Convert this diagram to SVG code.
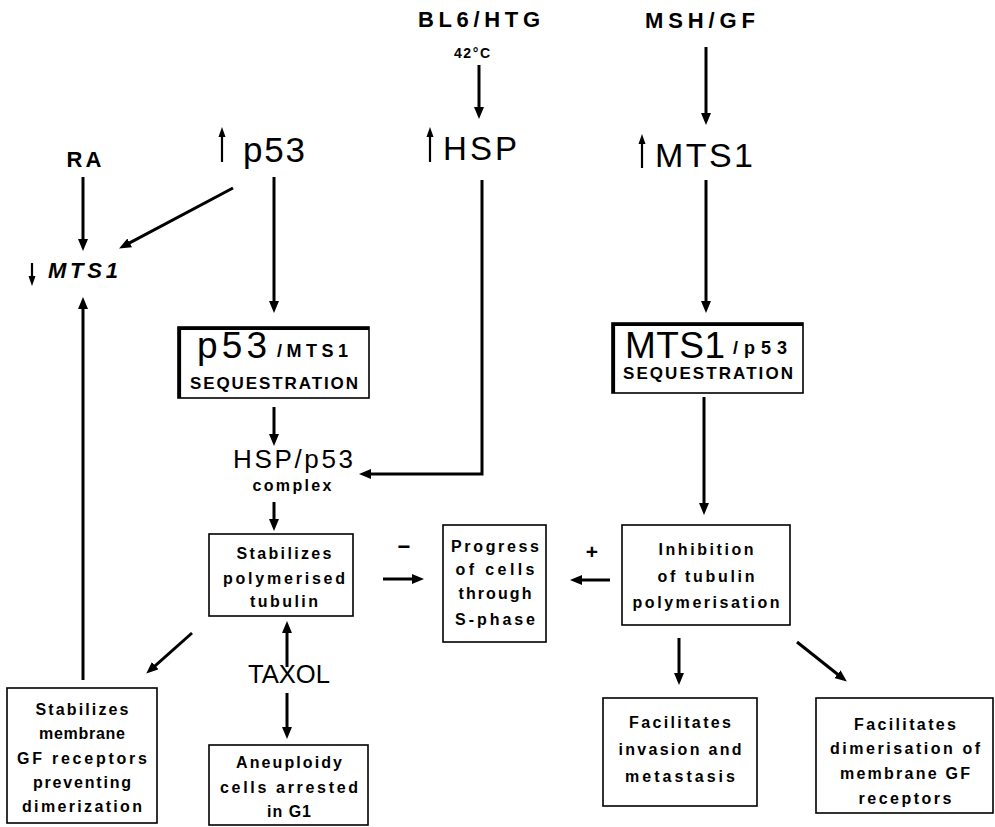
<svg xmlns="http://www.w3.org/2000/svg" width="995" height="827" viewBox="0 0 995 827">
<style>
text{font-family:"Liberation Sans",Arial,Helvetica,sans-serif;fill:#000}
.lab{font-weight:bold;font-size:16px;text-anchor:middle}
.hd{font-weight:bold;font-size:22px;text-anchor:middle}
.big{font-size:35px}
.seq{font-weight:bold;font-size:17px}
.box{fill:none;stroke:#000;stroke-width:1.6}
.thick{fill:none;stroke:#000;stroke-width:3.2}
.c{fill:none;stroke:#000;stroke-width:3}
.bar{stroke:#000;stroke-width:2.2}
</style>
<defs>
<marker id="ah" markerUnits="userSpaceOnUse" markerWidth="13" markerHeight="11" refX="7" refY="5" orient="auto">
<path d="M0,0 L12,5 L0,10 z" fill="#000"/>
</marker>
</defs>
<rect width="995" height="827" fill="#fff"/>

<g id="connectors">
<line class="c" x1="83" y1="177" x2="83" y2="246" marker-end="url(#ah)"/>
<line class="c" x1="233" y1="188" x2="123.5" y2="246.1" marker-end="url(#ah)"/>
<line class="c" x1="274" y1="177" x2="274" y2="308" marker-end="url(#ah)"/>
<line class="c" x1="479" y1="65" x2="479" y2="114" marker-end="url(#ah)"/>
<line class="c" x1="706" y1="47" x2="706" y2="120" marker-end="url(#ah)"/>
<line class="c" x1="706" y1="180" x2="706" y2="308" marker-end="url(#ah)"/>
<path class="c" d="M482,180 V474 H364" marker-end="url(#ah)"/>
<line class="c" x1="274" y1="407" x2="274" y2="441" marker-end="url(#ah)"/>
<line class="c" x1="274" y1="502" x2="274" y2="526" marker-end="url(#ah)"/>
<line class="c" x1="383" y1="579" x2="419" y2="579" marker-end="url(#ah)"/>
<line class="c" x1="610" y1="580" x2="575" y2="580" marker-end="url(#ah)"/>
<line class="c" x1="704" y1="397" x2="704" y2="510" marker-end="url(#ah)"/>
<line class="c" x1="679" y1="638" x2="679" y2="680" marker-end="url(#ah)"/>
<line class="c" x1="797" y1="642" x2="842.9" y2="678.5" marker-end="url(#ah)"/>
<line class="c" x1="192" y1="633" x2="150" y2="670.3" marker-end="url(#ah)"/>
<line class="c" x1="83" y1="680" x2="83" y2="302" marker-end="url(#ah)"/>
<line class="c" x1="287" y1="667" x2="287" y2="626" marker-end="url(#ah)"/>
<line class="c" x1="287" y1="693" x2="287" y2="734" marker-end="url(#ah)"/>
</g>

<g id="n-bl6">
<text class="hd" x="479" y="27" textLength="122">BL6/HTG</text>
<text class="lab" x="472" y="58" style="font-size:14px" textLength="36">42°C</text>
</g>
<g id="n-msh">
<text class="hd" x="700" y="28" textLength="110">MSH/GF</text>
</g>
<g id="n-ra">
<text class="hd" x="84" y="167" textLength="35">RA</text>
</g>
<g id="n-p53">
<line class="bar" x1="222" y1="162" x2="222" y2="134"/>
<path d="M222,127 L218.5,137 L225.5,137 z"/>
<text class="big" x="243" y="162" textLength="62">p53</text>
</g>
<g id="n-hsp">
<line class="bar" x1="430" y1="162" x2="430" y2="134"/>
<path d="M430,127 L426.5,137 L433.5,137 z"/>
<text class="big" x="443" y="160" style="font-size:33px" textLength="74">HSP</text>
</g>
<g id="n-mts1">
<line class="bar" x1="642" y1="168" x2="642" y2="141"/>
<path d="M642,134 L638.5,144 L645.5,144 z"/>
<text class="big" x="655" y="167" style="font-size:34px" textLength="98">MTS1</text>
</g>
<g id="n-mts1-down">
<line class="bar" x1="32" y1="263" x2="32" y2="279"/>
<path d="M32,286 L28.5,276 L35.5,276 z"/>
<text x="48" y="278" style="font-size:22px;font-weight:bold;font-style:italic" textLength="70">MTS1</text>
</g>

<g id="n-p53seq">
<rect class="box" x="178" y="327" width="191" height="71"/>
<path class="thick" d="M179.5,398 V328.5 H369"/>
<text class="big" x="197" y="358" style="font-size:37px" textLength="70">p53</text>
<text class="seq" x="277" y="357" style="font-size:18px" textLength="71">/MTS1</text>
<text class="seq" x="190" y="389" textLength="168">SEQUESTRATION</text>
</g>
<g id="n-mts1seq">
<rect class="box" x="612" y="323" width="191" height="70"/>
<path class="thick" d="M613.5,393 V324.5 H803"/>
<text class="big" x="625" y="358" style="font-size:37px" textLength="100">MTS1</text>
<text class="seq" x="733" y="354" style="font-size:18px" textLength="54">/p53</text>
<text class="seq" x="623" y="379" textLength="170">SEQUESTRATION</text>
</g>
<g id="n-hspp53">
<text x="293" y="468" style="font-size:26px;text-anchor:middle" textLength="120">HSP/p53</text>
<text class="lab" x="292" y="491" textLength="79">complex</text>
</g>
<g id="n-stab">
<rect class="box" x="209" y="534" width="144" height="82"/>
<text class="lab" x="284" y="559" textLength="95">Stabilizes</text>
<text class="lab" x="284" y="584" textLength="122">polymerised</text>
<text class="lab" x="284" y="607" textLength="68">tubulin</text>
</g>
<g id="n-progress">
<rect class="box" x="443" y="525" width="103" height="117"/>
<text class="lab" x="495" y="552" textLength="88">Progress</text>
<text class="lab" x="495" y="575" textLength="79">of cells</text>
<text class="lab" x="495" y="599" textLength="73">through</text>
<text class="lab" x="495" y="625" textLength="80">S-phase</text>
</g>
<g id="n-minus">
<text x="404" y="554" style="font-size:22px;font-weight:bold;text-anchor:middle">−</text>
</g>
<g id="n-plus">
<text x="592" y="559" style="font-size:21px;font-weight:bold;text-anchor:middle">+</text>
</g>
<g id="n-inhib">
<rect class="box" x="622" y="525" width="168" height="100"/>
<text class="lab" x="706" y="555" textLength="95">Inhibition</text>
<text class="lab" x="706" y="582" textLength="97">of tubulin</text>
<text class="lab" x="706" y="608" textLength="147">polymerisation</text>
</g>
<g id="n-taxol">
<text x="289" y="683" style="font-size:26px;text-anchor:middle" textLength="82" lengthAdjust="spacingAndGlyphs">TAXOL</text>
</g>
<g id="n-membrane">
<rect class="box" x="7" y="688" width="150" height="135"/>
<text class="lab" x="82" y="715" textLength="93">Stabilizes</text>
<text class="lab" x="82" y="739" textLength="86">membrane</text>
<text class="lab" x="82" y="764" textLength="130">GF receptors</text>
<text class="lab" x="82" y="788" textLength="98">preventing</text>
<text class="lab" x="82" y="812" textLength="120">dimerization</text>
</g>
<g id="n-aneu">
<rect class="box" x="209" y="745" width="159" height="80"/>
<text class="lab" x="289" y="768" textLength="106">Aneuploidy</text>
<text class="lab" x="289" y="793" textLength="138">cells arrested</text>
<text class="lab" x="289" y="817" textLength="44">in G1</text>
</g>
<g id="n-invasion">
<rect class="box" x="603" y="698" width="154" height="108"/>
<text class="lab" x="680" y="728" textLength="102">Facilitates</text>
<text class="lab" x="680" y="755" textLength="123">invasion and</text>
<text class="lab" x="680" y="782" textLength="110">metastasis</text>
</g>
<g id="n-dimer">
<rect class="box" x="816" y="698" width="177" height="115"/>
<text class="lab" x="905" y="730" textLength="102">Facilitates</text>
<text class="lab" x="905" y="754" textLength="150">dimerisation of</text>
<text class="lab" x="905" y="779" textLength="130">membrane GF</text>
<text class="lab" x="905" y="804" textLength="93">receptors</text>
</g>
</svg>
